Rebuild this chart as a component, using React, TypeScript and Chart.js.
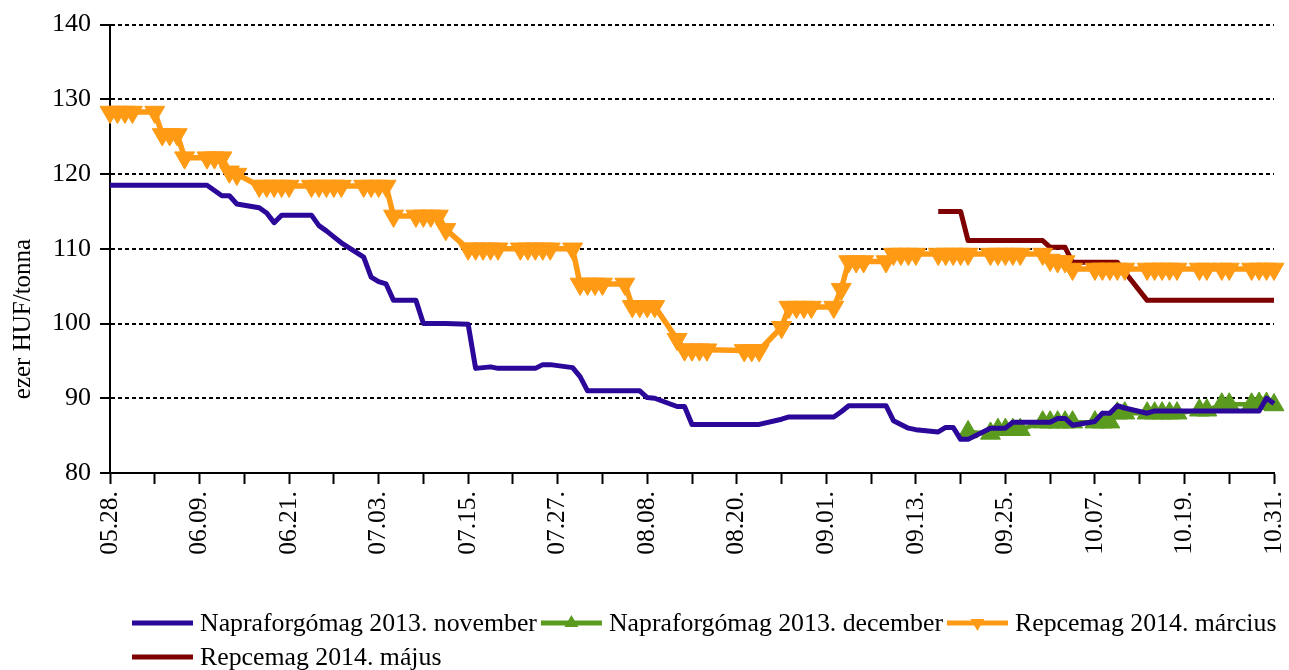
import React, { useEffect, useRef } from 'react';
import { Chart, registerables } from 'chart.js';

Chart.register(...registerables);

// ---- Data ----
const START_DATE = '2013-05-28';
const END_DATE = '2013-10-31';
const HOLIDAYS = ['2013-08-19', '2013-08-20', '2013-10-23'];

const X_TICK_LABELS = ['05.28.', '06.09.', '06.21.', '07.03.', '07.15.', '07.27.', '08.08.', '08.20.', '09.01.', '09.13.', '09.25.', '10.07.', '10.19.', '10.31.'];
const Y_MIN = 80;
const Y_MAX = 140;
const Y_STEP = 10;

const SERIES_LABELS = ['Napraforgómag 2013. november', 'Napraforgómag 2013. december', 'Repcemag 2014. március', 'Repcemag 2014. május'];

// one value per trading day, starting at START_DATE
const napraNovember = [
  118.5, 118.5, 118.5, 118.5,
  118.5, 118.5, 118.5, 118.5, 118.5,
  118.5, 117.8, 117.1, 117.1, 116.0,
  115.5, 114.8, 113.5, 114.5, 114.5,
  114.5, 113.1, 112.4, 111.6, 110.8,
  108.9, 106.2, 105.6, 105.3, 103.1,
  103.1, 100.0, 100.0, 100.0, 100.0,
  99.9, 94.0, 94.1, 94.2, 94.0,
  94.0, 94.0, 94.0, 94.5, 94.5,
  94.1, 92.9, 91.0, 91.0, 91.0,
  91.0, 91.0, 91.0, 90.1, 90.0,
  88.9, 88.9, 86.5, 86.5, 86.5,
  86.5, 86.5, 86.5,
  87.2, 87.5, 87.5, 87.5, 87.5,
  87.5, 88.2, 89.0, 89.0, 89.0,
  89.0, 87.0, 86.5, 86.0, 85.8,
  85.5, 86.1, 86.1, 84.5, 84.5,
  86.0, 86.0, 86.0, 86.8, 86.8,
  86.8, 86.8, 87.3, 87.3, 86.4,
  86.9, 88.0, 88.0, 89.0, 88.7,
  88.0, 88.3, 88.3, 88.3, 88.3,
  88.3, 88.3, 88.3, 88.3,
  88.3, 88.3, 90.0, 89.3,
];

const repceMarcius = [
  128.3, 128.3, 128.3, 128.3,
  128.3, 125.3, 125.3, 125.3, 122.2,
  122.2, 122.2, 122.2, 120.3, 120.0,
  118.4, 118.4, 118.4, 118.4, 118.4,
  118.4, 118.4, 118.4, 118.4, 118.4,
  118.4, 118.4, 118.4, 118.4, 114.4,
  114.4, 114.4, 114.4, 114.4, 112.6,
  110.0, 110.0, 110.0, 110.0, 110.0,
  110.0, 110.0, 110.0, 110.0, 110.0,
  110.0, 105.3, 105.3, 105.3, 105.3,
  105.3, 102.3, 102.3, 102.3, 102.3,
  97.9, 96.5, 96.5, 96.5, 96.5,
  96.4, 96.4, 96.4,
  99.5, 102.2, 102.2, 102.2, 102.2,
  102.2, 104.6, 108.3, 108.3, 108.3,
  108.3, 109.3, 109.3, 109.3, 109.3,
  109.3, 109.3, 109.3, 109.3, 109.3,
  109.3, 109.3, 109.3, 109.3, 109.3,
  109.3, 108.5, 108.3, 108.3, 107.3,
  107.3, 107.3, 107.3, 107.3, 107.3,
  107.3, 107.3, 107.3, 107.3, 107.3,
  107.3, 107.3, 107.3, 107.3,
  107.3, 107.3, 107.3, 107.3,
];

const NAPRA_DECEMBER_START = '2013-09-20';
const napraDecember = [
  85.5,
  85.3, 85.8, 85.8, 85.8, 85.8,
  86.8, 86.8, 86.8, 86.8, 86.8,
  86.8, 86.8, 86.8, 88.0, 88.0,
  88.0, 88.0, 88.0, 88.0, 88.0,
  88.4, 88.4, 89.2, 89.2,
  89.2, 89.3, 89.3, 89.1,
];

const REPCE_MAJUS_START = '2013-09-16';
const repceMajus = [
  115.0, 115.0, 115.0, 115.0, 111.1,
  111.1, 111.1, 111.1, 111.1, 111.1,
  111.1, 110.2, 110.2, 110.2, 108.2,
  108.2, 108.2, 108.2, 108.2, 106.9,
  103.1, 103.1, 103.1, 103.1, 103.1,
  103.1, 103.1, 103.1, 103.1,
  103.1, 103.1, 103.1, 103.1,
];

const COLORS = ['#2B0899', '#5A9A1E', '#FF9A14', '#7F0000'];

// ---- helpers ----
const DAY = 86400000;
function parseDate(s: string) {
  const [y, m, d] = s.split('-').map(Number);
  return Date.UTC(y, m - 1, d);
}
function dayOffset(s: string) {
  return Math.round((parseDate(s) - parseDate(START_DATE)) / DAY);
}
function tradingDays(): number[] {
  const start = parseDate(START_DATE);
  const end = parseDate(END_DATE);
  const out: number[] = [];
  for (let t = start; t <= end; t += DAY) {
    const d = new Date(t);
    const wd = d.getUTCDay();
    const iso = d.toISOString().slice(0, 10);
    if (wd !== 0 && wd !== 6 && !HOLIDAYS.includes(iso)) out.push(Math.round((t - start) / DAY));
  }
  return out;
}
function toPoints(values: number[], startOffset: number, days: number[]) {
  const idx = days.indexOf(startOffset);
  return values.map((v, i) => ({ x: days[idx + i], y: v }));
}

const FONT = '"Liberation Serif", "Times New Roman", serif';

function drawTriangle(ctx: CanvasRenderingContext2D, x: number, y: number, r: number, rotDeg: number) {
  let a = (rotDeg * Math.PI) / 180;
  ctx.beginPath();
  for (let i = 0; i < 3; i++) {
    const px = x + Math.sin(a) * r;
    const py = y - Math.cos(a) * r;
    if (i === 0) ctx.moveTo(px, py);
    else ctx.lineTo(px, py);
    a += (2 * Math.PI) / 3;
  }
  ctx.closePath();
  ctx.fill();
}

const customDecor = {
  id: 'customDecor',
  afterDraw(chart: any) {
    const ctx: CanvasRenderingContext2D = chart.ctx;
    ctx.save();
    // y-axis title
    ctx.fillStyle = '#000';
    ctx.font = `25px ${FONT}`;
    ctx.textAlign = 'center';
    ctx.textBaseline = 'middle';
    ctx.translate(23, 319);
    ctx.rotate(-Math.PI / 2);
    ctx.fillText('ezer HUF/tonna', 0, 0);
    ctx.restore();

    // legend
    ctx.save();
    ctx.font = `25.8px ${FONT}`;
    ctx.textBaseline = 'middle';
    ctx.textAlign = 'left';
    let x = 132;
    let y = 623;
    chart.data.datasets.forEach((ds: any) => {
      const w = ctx.measureText(ds.label).width;
      if (x + 68 + w > 1285) {
        x = 132;
        y += 34;
      }
      ctx.strokeStyle = ds.borderColor;
      ctx.lineWidth = 5;
      ctx.beginPath();
      ctx.moveTo(x, y);
      ctx.lineTo(x + 61, y);
      ctx.stroke();
      if (ds.pointRadius > 0) {
        ctx.fillStyle = ds.pointBackgroundColor;
        drawTriangle(ctx, x + 30.5, y, 8, ds.pointRotation || 0);
      }
      ctx.fillStyle = '#000';
      ctx.fillText(ds.label, x + 68, y + 1);
      x += 68 + w + 4;
    });
    ctx.restore();
  },
};

export default function App() {
  const canvasRef = useRef<HTMLCanvasElement | null>(null);

  useEffect(() => {
    if (!canvasRef.current) return;
    const days = tradingDays();
    const datasets = [
      {
        label: SERIES_LABELS[0],
        data: toPoints(napraNovember, 0, days),
        borderColor: COLORS[0],
        backgroundColor: COLORS[0],
        borderWidth: 5,
        pointRadius: 0,
      },
      {
        label: SERIES_LABELS[1],
        data: toPoints(napraDecember, dayOffset(NAPRA_DECEMBER_START), days),
        borderColor: COLORS[1],
        backgroundColor: COLORS[1],
        borderWidth: 4.5,
        pointRadius: 11.5,
        pointStyle: 'triangle',
        pointRotation: 0,
        pointBackgroundColor: COLORS[1],
        pointBorderColor: COLORS[1],
        pointBorderWidth: 1,
      },
      {
        label: SERIES_LABELS[2],
        data: toPoints(repceMarcius, 0, days),
        borderColor: COLORS[2],
        backgroundColor: COLORS[2],
        borderWidth: 5.5,
        pointRadius: 11.5,
        pointStyle: 'triangle',
        pointRotation: 180,
        pointBackgroundColor: COLORS[2],
        pointBorderColor: COLORS[2],
        pointBorderWidth: 1,
      },
      {
        label: SERIES_LABELS[3],
        data: toPoints(repceMajus, dayOffset(REPCE_MAJUS_START), days),
        borderColor: COLORS[3],
        backgroundColor: COLORS[3],
        borderWidth: 5,
        pointRadius: 0,
      },
    ];

    const chart = new Chart(canvasRef.current, {
      type: 'line',
      data: { datasets: datasets as any },
      plugins: [customDecor],
      options: {
        animation: false,
        responsive: false,
        devicePixelRatio: 1,
        events: [],
        layout: { padding: { left: 0, top: 23, right: 15, bottom: 97 } },
        elements: {
          line: { tension: 0, borderJoinStyle: 'round', borderCapStyle: 'butt' },
        },
        datasets: { line: { clip: false } as any },
        plugins: {
          legend: { display: false },
          tooltip: { enabled: false },
          title: { display: false },
        },
        scales: {
          x: {
            type: 'linear',
            min: 0,
            max: dayOffset(END_DATE),
            afterFit: (scale: any) => {
              scale.height = 100;
              scale.paddingLeft = 0;
              scale.paddingRight = 0;
            },
            ticks: {
              stepSize: 6,
              autoSkip: false,
              maxRotation: 90,
              minRotation: 90,
              padding: 7,
              color: '#000',
              font: { family: FONT, size: 25.5 },
              callback: (value: any) => {
                const v = Number(value);
                return v % 12 === 0 ? X_TICK_LABELS[v / 12] : '';
              },
            },
            grid: {
              display: true,
              drawOnChartArea: false,
              drawTicks: true,
              tickLength: 11,
              tickColor: '#000',
              tickWidth: 2,
            },
            border: { display: true, color: '#000', width: 2 },
          },
          y: {
            type: 'linear',
            min: Y_MIN,
            max: Y_MAX,
            afterFit: (scale: any) => {
              scale.width = 110;
            },
            ticks: {
              stepSize: Y_STEP,
              padding: 9,
              color: '#000',
              font: { family: FONT, size: 26 },
            },
            grid: {
              display: true,
              color: '#000',
              lineWidth: 2,
              tickLength: 10,
              tickColor: '#000',
              tickWidth: 2,
              tickBorderDash: [],
            },
            border: { display: true, color: '#000', width: 2, dash: [4, 3] },
          },
        },
      } as any,
    });
    return () => chart.destroy();
  }, []);

  return (
    <div style={{ position: 'absolute', left: 0, top: 0, width: 1289, height: 670, background: '#fff' }}>
      <canvas ref={canvasRef} width={1289} height={670} style={{ display: 'block' }} />
    </div>
  );
}
